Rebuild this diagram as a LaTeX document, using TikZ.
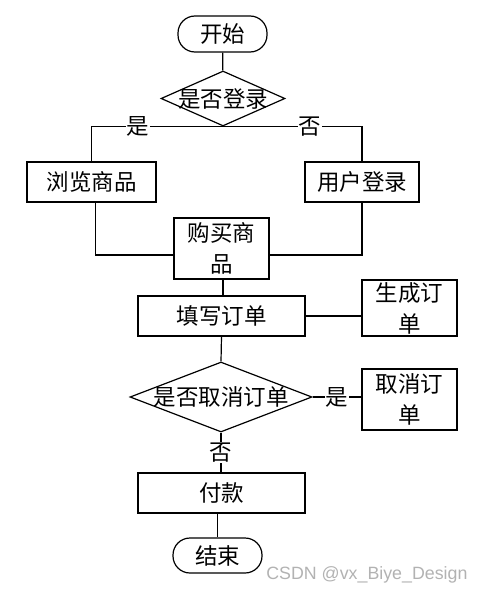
\documentclass[tikz,border=0pt]{standalone}
\usepackage{fontspec}
\setmainfont{Noto Sans CJK SC}
\newfontfamily\wmfont{Liberation Sans}
\usetikzlibrary{shapes.geometric}
\tikzset{
  base/.style={draw, line width=1.2pt, inner sep=0pt, font=\fontsize{22.5}{31}\selectfont, align=center},
  box/.style={base, rectangle},
  term/.style={base, rectangle, rounded corners=17pt},
  dec/.style={base, diamond},
  conn/.style={line width=1.2pt},
  lab/.style={fill=white, inner sep=1pt, font=\fontsize{22.5}{24}\selectfont}
}
\begin{document}
\begin{tikzpicture}[x=1pt,y=-1pt]
\useasboundingbox (0,0) rectangle (486,594);
\node[term, minimum width=89pt, minimum height=36pt] (start) at (222.5,34) {开始};
\node[dec, minimum width=124pt, minimum height=55pt] (d1) at (223,98.5) {\makebox[0pt]{是否登录}};
\node[box, minimum width=129pt, minimum height=40pt] (browse) at (91.5,182) {浏览商品};
\node[box, minimum width=114pt, minimum height=40pt] (login) at (362,182) {用户登录};
\node[box, minimum width=95pt, minimum height=61pt] (buy) at (221.5,248.5) {购买商\\品};
\node[box, minimum width=167pt, minimum height=40pt] (fill) at (221.5,316) {填写订单};
\node[box, minimum width=95pt, minimum height=56pt] (gen) at (409.5,308) {生成订\\单};
\node[dec, minimum width=182pt, minimum height=70pt] (d2) at (221,397) {\makebox[0pt]{是否取消订单}};
\node[box, minimum width=95pt, minimum height=61pt] (cancel) at (409.5,399.5) {取消订\\单};
\node[box, minimum width=167pt, minimum height=40pt] (pay) at (221.5,493) {付款};
\node[term, minimum width=89pt, minimum height=35pt] (end) at (217.5,555.5) {结束};
\node[text=black!30, font=\wmfont\fontsize{17.8}{20}\selectfont, anchor=east] (wm) at (471,575) {CSDN @vx\_Biye\_Design};

\draw[conn] (start) -- (d1);
\draw[conn] (d1.south) -| node[lab, pos=0.323] {是} (browse.north);
\draw[conn] (d1.south) -| node[lab, pos=0.313] {否} (login.north);
\draw[conn] ([xshift=4pt]browse.south) |- ([yshift=-6.5pt]buy.west);
\draw[conn] (login.south) |- ([yshift=-6.5pt]buy.east);
\draw[conn] ([xshift=1.5pt]buy.south) -- ([xshift=1.5pt]fill.north);
\draw[conn] (fill.east) -- (fill.east -| gen.west);
\draw[conn] (fill.south) -- (d2.north);
\draw[conn] (d2.east) -- node[lab] {是} (d2.east -| cancel.west);
\draw[conn] (d2.south) -- node[lab] {否} (d2.south |- pay.north);
\draw[conn] (end.north |- pay.south) -- (end.north);
\end{tikzpicture}
\end{document}
